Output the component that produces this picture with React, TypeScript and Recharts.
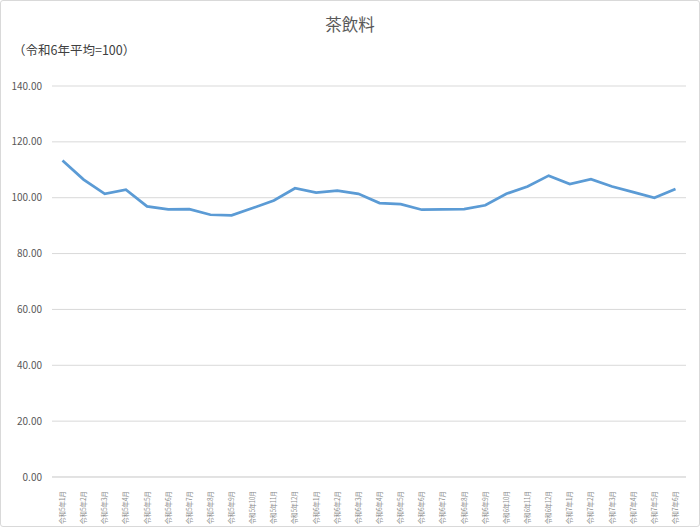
import React from "react";
import { CartesianGrid, Line, LineChart, XAxis, YAxis } from "recharts";

const months = [
    "令和5年1月", "令和5年2月", "令和5年3月", "令和5年4月", "令和5年5月", "令和5年6月",
    "令和5年7月", "令和5年8月", "令和5年9月", "令和5年10月", "令和5年11月", "令和5年12月",
    "令和6年1月", "令和6年2月", "令和6年3月", "令和6年4月", "令和6年5月", "令和6年6月",
    "令和6年7月", "令和6年8月", "令和6年9月", "令和6年10月", "令和6年11月", "令和6年12月",
    "令和7年1月", "令和7年2月", "令和7年3月", "令和7年4月", "令和7年5月", "令和7年6月",
];

const teaIndex = [
    113.3, 106.5, 101.4, 102.9, 96.9, 95.8, 95.9, 93.9, 93.7, 96.3, 99.0, 103.4,
    101.8, 102.5, 101.4, 98.1, 97.7, 95.7, 95.8, 95.9, 97.3, 101.4, 104.0, 107.9,
    104.9, 106.6, 104.0, 102.0, 100.0, 103.1,
];

const yTicks = [0, 20, 40, 60, 80, 100, 120, 140];

const data = months.map((month, i) => ({ month, value: teaIndex[i] }));

const FONT = '"Noto Sans CJK JP", "Noto Sans", sans-serif';

// Excel squeezes the longer month labels to the same length as the short ones
function MonthTick(props: any) {
    const { x, y, payload } = props;
    return (
        <g transform={`translate(${x},${y})`}>
            <text
                transform="rotate(-90)"
                x={-6}
                y={0}
                dy="0.35em"
                textAnchor="end"
                fontSize={7}
                fill="#8c8c8c"
                fontFamily={FONT}
                textLength={33}
                lengthAdjust="spacingAndGlyphs"
            >
                {payload.value}
            </text>
        </g>
    );
}

export default function App() {
    return (
        <div
            style={{
                position: "absolute",
                left: 0,
                top: 0,
                width: 700,
                height: 527,
                boxSizing: "border-box",
                border: "1px solid #d9d9d9",
                borderRadius: 3,
                background: "#fff",
                fontFamily: FONT,
            }}
        >
            <div
                style={{
                    position: "absolute",
                    top: 11,
                    left: 0,
                    width: "100%",
                    textAlign: "center",
                    fontSize: 16.5,
                    color: "#595959",
                }}
            >
                茶飲料
            </div>
            <div
                style={{
                    position: "absolute",
                    top: 39,
                    left: 12,
                    fontSize: 12.5,
                    color: "#404040",
                }}
            >
                （令和6年平均=100）
            </div>
            <LineChart
                width={698}
                height={525}
                data={data}
                margin={{ top: 85, right: 13, bottom: 4, left: 6 }}
            >
                <CartesianGrid stroke="#d9d9d9" vertical={false} />
                <XAxis
                    dataKey="month"
                    interval={0}
                    height={45}
                    axisLine={{ stroke: "#d9d9d9" }}
                    tickLine={false}
                    tick={<MonthTick />}
                    padding={{ left: 10.5, right: 10.5 }}
                />
                <YAxis
                    domain={[0, 140]}
                    ticks={yTicks}
                    width={45}
                    axisLine={false}
                    tickLine={false}
                    tickMargin={4}
                    tickFormatter={(v) => v.toFixed(2)}
                    tick={{ fontSize: 10, fill: "#595959", fontFamily: FONT }}
                />
                <Line
                    type="linear"
                    dataKey="value"
                    stroke="#5b9bd5"
                    strokeWidth={2.75}
                    dot={false}
                    isAnimationActive={false}
                />
            </LineChart>
        </div>
    );
}
